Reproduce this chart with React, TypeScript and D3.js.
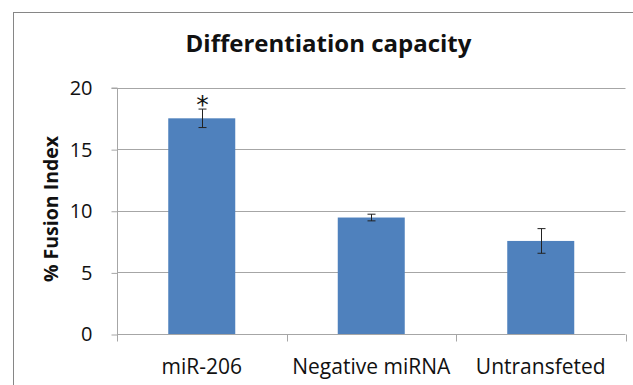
import { useEffect, useRef } from 'react';
import * as d3 from 'd3';

const categories = ['miR-206', 'Negative miRNA', 'Untransfeted'];
const fusionIndex = [17.5, 9.45, 7.55];
const errors = [0.75, 0.27, 1.0];
const significant = [true, false, false];
const yTicks = [0, 5, 10, 15, 20];

const App = () => {
    const ref = useRef<SVGSVGElement>(null);

    useEffect(() => {
        const svg = d3.select(ref.current);
        svg.selectAll('*').remove();

        const font = 'Open Sans, Noto Sans, sans-serif';
        const left = 117, right = 625.5, top = 87.5, bottom = 334;

        // chart frame
        svg.append('rect')
            .attr('x', 13.5).attr('y', 12.5)
            .attr('width', 700).attr('height', 500)
            .attr('fill', 'white')
            .attr('stroke', '#868686');

        svg.append('text')
            .attr('x', 328.5).attr('y', 52)
            .attr('text-anchor', 'middle')
            .attr('font-family', font)
            .attr('font-weight', 'bold')
            .attr('font-size', 24)
            .attr('fill', '#111')
            .text('Differentiation capacity');

        const yScale = d3.scaleLinear().domain([0, 20]).range([bottom, top]);
        const xScale = d3.scaleBand().domain(categories).range([left, right]).paddingInner(0).paddingOuter(0);
        const barW = 67;

        // gridlines
        svg.append('g')
            .selectAll('line')
            .data(yTicks.filter(t => t > 0))
            .enter()
            .append('line')
            .attr('x1', left).attr('x2', right)
            .attr('y1', d => Math.round(yScale(d)) + 0.5)
            .attr('y2', d => Math.round(yScale(d)) + 0.5)
            .attr('stroke', '#a6a6a6');

        // y axis
        const yAxis = svg.append('g')
            .attr('transform', `translate(${left + 0.5}, 0.5)`)
            .call(d3.axisLeft(yScale).tickValues(yTicks).tickSize(6).tickPadding(19).tickFormat(d3.format('d')));
        yAxis.select('.domain').attr('stroke', '#a6a6a6').attr('d', `M-6,${top}H0V${bottom}`);
        yAxis.selectAll('line').attr('stroke', '#a6a6a6');
        yAxis.selectAll('text')
            .attr('font-family', font)
            .attr('font-size', 20)
            .attr('fill', '#111');

        // x axis
        const xAxis = svg.append('g')
            .attr('transform', `translate(0, ${Math.round(bottom) + 0.5})`);
        xAxis.append('line')
            .attr('x1', left).attr('x2', right)
            .attr('stroke', '#a6a6a6');
        xAxis.selectAll('.tick')
            .data([...categories.map(c => xScale(c)!), right])
            .enter()
            .append('line')
            .attr('x1', d => Math.round(d) + 0.5).attr('x2', d => Math.round(d) + 0.5)
            .attr('y1', 0).attr('y2', 7)
            .attr('stroke', '#a6a6a6');
        xAxis.selectAll('.label')
            .data(categories)
            .enter()
            .append('text')
            .attr('x', d => xScale(d)! + xScale.bandwidth() / 2)
            .attr('y', 39)
            .attr('text-anchor', 'middle')
            .attr('font-family', font)
            .attr('font-size', 21)
            .attr('fill', '#111')
            .text(d => d);

        // y title
        svg.append('text')
            .attr('transform', 'translate(58, 209) rotate(-90)')
            .attr('text-anchor', 'middle')
            .attr('font-family', font)
            .attr('font-weight', 'bold')
            .attr('font-size', 19.5)
            .attr('fill', '#111')
            .text('% Fusion Index');

        const cx = (i: number) => xScale(categories[i])! + xScale.bandwidth() / 2;

        // bars
        svg.append('g')
            .selectAll('rect')
            .data(fusionIndex)
            .enter()
            .append('rect')
            .attr('x', (d, i) => cx(i) - barW / 2)
            .attr('y', d => yScale(d))
            .attr('width', barW)
            .attr('height', d => bottom - yScale(d))
            .attr('fill', '#4f81bd');

        // error bars
        const err = svg.append('g').attr('stroke', '#222').attr('stroke-width', 1);
        fusionIndex.forEach((v, i) => {
            const x = Math.round(cx(i)) + 0.5;
            const y1 = yScale(v + errors[i]), y2 = yScale(v - errors[i]);
            err.append('line').attr('x1', x).attr('x2', x).attr('y1', y1).attr('y2', y2);
            err.append('line').attr('x1', x - 4).attr('x2', x + 4).attr('y1', y1).attr('y2', y1);
            err.append('line').attr('x1', x - 4).attr('x2', x + 4).attr('y1', y2).attr('y2', y2);
            if (significant[i]) {
                svg.append('text')
                    .attr('x', x)
                    .attr('y', y1 + 4)
                    .attr('text-anchor', 'middle')
                    .attr('font-family', 'DejaVu Sans, sans-serif')
                    .attr('font-size', 25)
                    .attr('fill', '#111')
                    .text('*');
            }
        });
    }, []);

    return (
        <svg ref={ref} width={633} height={385}
            style={{ position: 'absolute', left: 0, top: 0, background: 'white' }} />
    );
};

export default App;
